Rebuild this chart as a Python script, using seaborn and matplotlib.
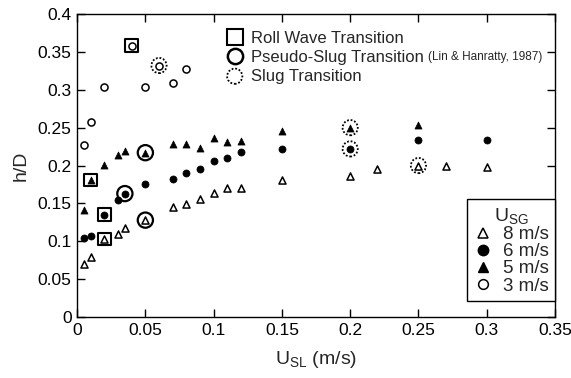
import matplotlib
matplotlib.use("Agg")
import matplotlib.pyplot as plt
import seaborn as sns
from matplotlib.lines import Line2D

# ---- data ----
x8 = [0.005, 0.010, 0.020, 0.030, 0.035, 0.050, 0.070, 0.080, 0.090, 0.100, 0.110, 0.120, 0.150, 0.200, 0.220, 0.250, 0.270, 0.300]
y8 = [0.070, 0.079, 0.103, 0.110, 0.118, 0.128, 0.145, 0.149, 0.156, 0.164, 0.170, 0.170, 0.181, 0.186, 0.196, 0.200, 0.200, 0.198]

x6 = [0.005, 0.010, 0.020, 0.030, 0.035, 0.050, 0.070, 0.080, 0.090, 0.100, 0.110, 0.120, 0.150, 0.200, 0.250, 0.300]
y6 = [0.104, 0.107, 0.135, 0.154, 0.163, 0.176, 0.182, 0.190, 0.195, 0.206, 0.210, 0.218, 0.222, 0.222, 0.234, 0.234]

x5 = [0.005, 0.010, 0.020, 0.030, 0.035, 0.050, 0.070, 0.080, 0.090, 0.100, 0.110, 0.120, 0.150, 0.200, 0.250]
y5 = [0.141, 0.181, 0.201, 0.214, 0.219, 0.217, 0.228, 0.228, 0.223, 0.236, 0.231, 0.232, 0.245, 0.250, 0.253]

x3 = [0.005, 0.010, 0.020, 0.040, 0.050, 0.060, 0.070, 0.080]
y3 = [0.227, 0.257, 0.304, 0.358, 0.304, 0.332, 0.309, 0.328]

# transitions (x, y)
roll_x = [0.040, 0.010, 0.020, 0.020]
roll_y = [0.358, 0.181, 0.135, 0.103]
pseudo_x = [0.050, 0.035, 0.050]
pseudo_y = [0.217, 0.163, 0.128]
slug_x = [0.060, 0.200, 0.200, 0.250]
slug_y = [0.332, 0.250, 0.222, 0.200]

transition_labels = ["Roll Wave Transition", "Pseudo-Slug Transition", "Slug Transition"]
usg_labels = ["8 m/s", "6 m/s", "5 m/s", "3 m/s"]

x_ticks = [0, 0.05, 0.1, 0.15, 0.2, 0.25, 0.3, 0.35]
y_ticks = [0, 0.05, 0.1, 0.15, 0.2, 0.25, 0.3, 0.35, 0.4]

sns.set_style("ticks")
plt.rcParams['font.family'] = ['Liberation Sans', 'DejaVu Sans']
plt.rcParams['mathtext.fontset'] = 'custom'
plt.rcParams['mathtext.rm'] = 'Liberation Sans'

fig = plt.figure(figsize=(5.71, 3.78), dpi=100)
ax = fig.add_axes([0.135, 0.161, 0.837, 0.802])

ms = 26
sns.scatterplot(x=x8, y=y8, marker='^', s=ms, facecolor='white', edgecolor='black', linewidth=1.1, ax=ax, zorder=3)
sns.scatterplot(x=x6, y=y6, marker='o', s=ms, color='black', edgecolor='black', linewidth=0.5, ax=ax, zorder=3)
sns.scatterplot(x=x5, y=y5, marker='^', s=ms, color='black', edgecolor='black', linewidth=0.5, ax=ax, zorder=3)
sns.scatterplot(x=x3, y=y3, marker='o', s=ms, facecolor='white', edgecolor='black', linewidth=1.1, ax=ax, zorder=3)

sns.scatterplot(x=roll_x, y=roll_y, marker='s', s=85, facecolor='none', edgecolor='black', linewidth=1.5, ax=ax, zorder=2)
sns.scatterplot(x=pseudo_x, y=pseudo_y, marker='o', s=120, facecolor='none', edgecolor='black', linewidth=1.6, ax=ax, zorder=2)
sns.scatterplot(x=slug_x, y=slug_y, marker='o', s=120, facecolor='none', edgecolor='black', linewidth=1.3,
                linestyle=(0, (1, 1)), ax=ax, zorder=2)

ax.set_xlim(0, 0.35)
ax.set_ylim(0, 0.4)
ax.set_xticks(x_ticks)
ax.set_yticks(y_ticks)
ax.set_xticklabels([f"{t:g}" for t in x_ticks])
ax.set_yticklabels([f"{t:g}" for t in y_ticks])
ax.tick_params(direction='in', top=True, right=True, length=6, width=1, labelsize=12.5, colors='black', pad=4)
for sp in ax.spines.values():
    sp.set_linewidth(1.0)
    sp.set_color('black')
    sp.set_visible(True)

ax.set_xlabel(r"$\mathregular{U_{SL}}$ (m/s)", fontsize=14, labelpad=8)
ax.set_ylabel("h/D", fontsize=14, labelpad=6)

# transition legend (slug handle is the dotted scatter itself)
h1 = [Line2D([], [], marker='s', markersize=11, markerfacecolor='none', markeredgecolor='black', markeredgewidth=1.5, linestyle='none'),
      Line2D([], [], marker='o', markersize=11, markerfacecolor='none', markeredgecolor='black', markeredgewidth=1.8, linestyle='none'),
      ax.collections[6]]
leg1 = ax.legend(h1, transition_labels,
                 loc='upper left', bbox_to_anchor=(0.295, 0.965), frameon=False, fontsize=12,
                 handletextpad=0.35, labelspacing=0.22, handlelength=1.2, borderaxespad=0, scatterpoints=1)
ax.add_artist(leg1)
fig.canvas.draw()
t2 = leg1.get_texts()[1]
ax.annotate("(Lin & Hanratty, 1987)", xy=(1, 0.5), xycoords=t2, xytext=(3, 0), textcoords='offset points',
            va='center', ha='left', fontsize=8.5)

# U_SG legend
h2 = [Line2D([], [], marker='^', markersize=7, markerfacecolor='white', markeredgecolor='black', markeredgewidth=1.1, linestyle='none'),
      Line2D([], [], marker='o', markersize=7.5, markerfacecolor='black', markeredgecolor='black', linestyle='none'),
      Line2D([], [], marker='^', markersize=7.5, markerfacecolor='black', markeredgecolor='black', linestyle='none'),
      Line2D([], [], marker='o', markersize=7, markerfacecolor='white', markeredgecolor='black', markeredgewidth=1.1, linestyle='none')]
leg2 = ax.legend(h2, usg_labels, title=r"$\mathregular{U_{SG}}$",
                 loc='lower right', bbox_to_anchor=(1.0, 0.053), borderaxespad=0, fontsize=13.5,
                 title_fontsize=14, frameon=True, fancybox=False, edgecolor='black', framealpha=1,
                 handletextpad=0.55, labelspacing=0.0, handlelength=1.0, borderpad=0.35)
leg2.get_frame().set_linewidth(1.0)

fig.savefig("out.png", dpi=100)
